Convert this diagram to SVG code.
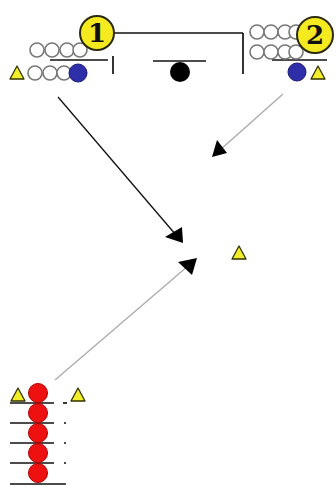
<svg xmlns="http://www.w3.org/2000/svg" width="336" height="486" viewBox="0 0 336 486">
<defs>
<style>
.ln{stroke:#111;stroke-width:1.7;fill:none}
.open{fill:#fff;stroke:#777;stroke-width:1.6}
.blue{fill:#2e2ea8;stroke:#1a1a70;stroke-width:1}
.red{fill:#ee1111;stroke:#b00000;stroke-width:1}
.cone{fill:#f2ef2a;stroke:#333300;stroke-width:1.3;stroke-linejoin:round}
.num{fill:#f5ea20;stroke:#2a2a10;stroke-width:2}
.numt{font-family:"DejaVu Serif","Liberation Serif",serif;font-weight:bold;font-size:26px;fill:#111;text-anchor:middle}
.arr{stroke:#111;stroke-width:1.3;fill:none}
.arrg{stroke:#aaa;stroke-width:1.3;fill:none}
</style>
</defs>
<rect width="336" height="486" fill="#fff"/>
<g id="goal">
<line class="ln" x1="110" y1="33" x2="243" y2="33"/>
<line class="ln" x1="243" y1="33" x2="243" y2="74"/>
<line class="ln" x1="113" y1="56" x2="113" y2="74"/>
<line class="ln" x1="153" y1="61" x2="206" y2="61"/>
<circle cx="180" cy="72" r="10" fill="#000"/>
</g>
<g id="group1">
<line class="ln" x1="50" y1="60" x2="108" y2="60"/>
<circle class="open" cx="37" cy="50" r="7"/>
<circle class="open" cx="52" cy="50" r="7"/>
<circle class="open" cx="67" cy="50" r="7"/>
<circle class="open" cx="80" cy="50" r="7"/>
<circle class="open" cx="35" cy="73" r="7"/>
<circle class="open" cx="50" cy="73" r="7"/>
<circle class="open" cx="64" cy="73" r="7"/>
<circle class="blue" cx="78" cy="73" r="9"/>
<polygon class="cone" points="10,79 24,79 17,66"/>
<circle class="num" cx="97" cy="33" r="17"/>
<text class="numt" x="97" y="42">1</text>
</g>
<g id="group2">
<line class="ln" x1="272" y1="60" x2="327" y2="60"/>
<circle class="open" cx="257" cy="32" r="7"/>
<circle class="open" cx="271" cy="32" r="7"/>
<circle class="open" cx="285" cy="32" r="7"/>
<circle class="open" cx="296" cy="32" r="7"/>
<circle class="open" cx="257" cy="52" r="7"/>
<circle class="open" cx="271" cy="52" r="7"/>
<circle class="open" cx="285" cy="52" r="7"/>
<circle class="open" cx="296" cy="52" r="7"/>
<circle class="blue" cx="297" cy="72" r="9"/>
<polygon class="cone" points="311,79 325,79 318,66"/>
<circle class="num" cx="315" cy="35" r="18"/>
<text class="numt" x="315" y="44">2</text>
</g>
<g id="cone-mid">
<polygon class="cone" points="232,259 246,259 239,246"/>
</g>
<g id="group3">
<line class="ln" x1="10" y1="403" x2="54" y2="403"/>
<line class="ln" x1="10" y1="423" x2="54" y2="423"/>
<line class="ln" x1="10" y1="443" x2="54" y2="443"/>
<line class="ln" x1="10" y1="463" x2="54" y2="463"/>
<line class="ln" x1="10" y1="484" x2="66" y2="484"/>
<line class="ln" x1="63" y1="403" x2="67" y2="403"/>
<line class="ln" x1="64" y1="423" x2="66" y2="423"/>
<line class="ln" x1="64" y1="443" x2="66" y2="443"/>
<line class="ln" x1="64" y1="463" x2="66" y2="463"/>
<circle class="red" cx="38" cy="393" r="9.5"/>
<circle class="red" cx="38" cy="413" r="9.5"/>
<circle class="red" cx="38" cy="433" r="9.5"/>
<circle class="red" cx="38" cy="453" r="9.5"/>
<circle class="red" cx="38" cy="473" r="9.5"/>
<polygon class="cone" points="11,401 25,401 18,388"/>
<polygon class="cone" points="71,401 85,401 78,388"/>
</g>
<g id="connectors">
<line class="arr" x1="58" y1="97" x2="176" y2="235"/>
<polygon points="183,243 165,237 182,227" fill="#000"/>
<line class="arrg" x1="283" y1="94" x2="220" y2="150"/>
<polygon points="212,157 217,140 227,153" fill="#000"/>
<line class="arrg" x1="55" y1="380" x2="188" y2="266"/>
<polygon points="197,258 178,262 192,275" fill="#000"/>
</g>
</svg>
